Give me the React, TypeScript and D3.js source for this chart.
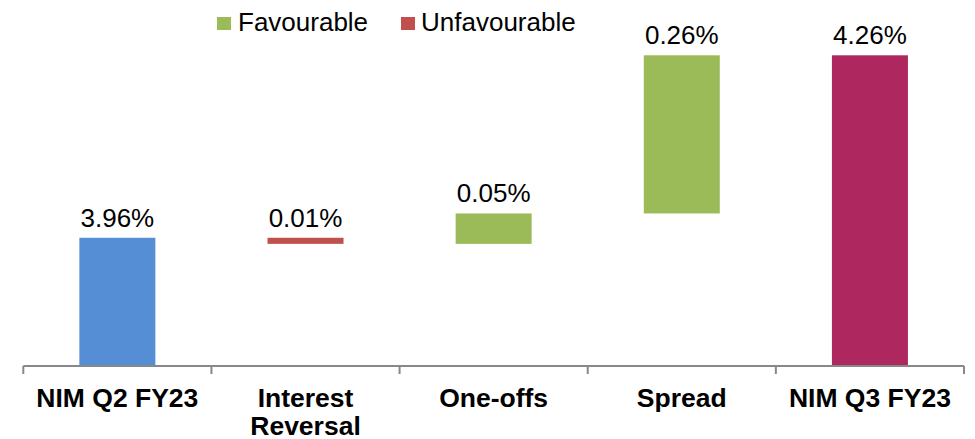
import React from "react";
import * as d3 from "d3";

const categories = ["NIM Q2 FY23", "Interest Reversal", "One-offs", "Spread", "NIM Q3 FY23"];
const categoryLines = [["NIM Q2 FY23"], ["Interest", "Reversal"], ["One-offs"], ["Spread"], ["NIM Q3 FY23"]];
const starts = [3.75, 3.96, 3.95, 4.0, 3.75];
const ends = [3.96, 3.95, 4.0, 4.26, 4.26];
const valueLabels = ["3.96%", "0.01%", "0.05%", "0.26%", "4.26%"];
const barKinds = ["base", "unfav", "fav", "fav", "end"];
const legendItems = ["Favourable", "Unfavourable"];

const COLORS: Record<string, string> = {
  base: "#558ED5",
  unfav: "#C0504D",
  fav: "#9BBB59",
  end: "#AE275F",
};

const W = 975;
const H = 439;
const FONT = "'Liberation Sans', Arial, sans-serif";

export default function App() {
  const x = d3.scaleBand<string>().domain(categories).range([23.3, 964]).paddingInner(0).paddingOuter(0);
  const y = d3.scaleLinear().domain([3.75, 4.26]).range([365.5, 55.3]);
  const bw = x.bandwidth() * 0.404;
  const ticks = [...categories.map((c) => x(c) as number), 964];

  return (
    <div style={{ position: "fixed", left: 0, top: 0 }}>
      <svg width={W} height={H} style={{ display: "block", background: "#fff" }}>
        {/* legend */}
        <g fontFamily={FONT} fontSize={26} fill="#000">
          <rect x={217} y={17} width={14} height={13} fill={COLORS.fav} />
          <text x={238} y={31}>{legendItems[0]}</text>
          <rect x={401} y={17} width={14} height={13} fill={COLORS.unfav} />
          <text x={421} y={31}>{legendItems[1]}</text>
        </g>
        {/* bars */}
        {categories.map((c, i) => {
          const cx = (x(c) as number) + x.bandwidth() / 2;
          const top = y(Math.max(starts[i], ends[i]));
          const bot = y(Math.min(starts[i], ends[i]));
          return (
            <g key={c}>
              <rect x={cx - bw / 2} y={top} width={bw} height={bot - top} fill={COLORS[barKinds[i]]} />
              <text
                x={cx}
                y={top - 11}
                textAnchor="middle"
                fontFamily={FONT}
                fontSize={26}
                fill="#000"
              >
                {valueLabels[i]}
              </text>
            </g>
          );
        })}
        {/* axis */}
        <line x1={23.3} x2={964} y1={366} y2={366} stroke="#888" strokeWidth={2} />
        {ticks.map((t, i) => (
          <line key={i} x1={t} x2={t} y1={366} y2={374} stroke="#888" strokeWidth={2} />
        ))}
        {categories.map((c, i) => {
          const cx = (x(c) as number) + x.bandwidth() / 2;
          return (
            <text
              key={c}
              textAnchor="middle"
              fontFamily={FONT}
              fontWeight="bold"
              fontSize={26.5}
              fill="#000"
            >
              {categoryLines[i].map((ln, j) => (
                <tspan key={j} x={cx} y={407 + j * 27.5}>
                  {ln}
                </tspan>
              ))}
            </text>
          );
        })}
      </svg>
    </div>
  );
}
